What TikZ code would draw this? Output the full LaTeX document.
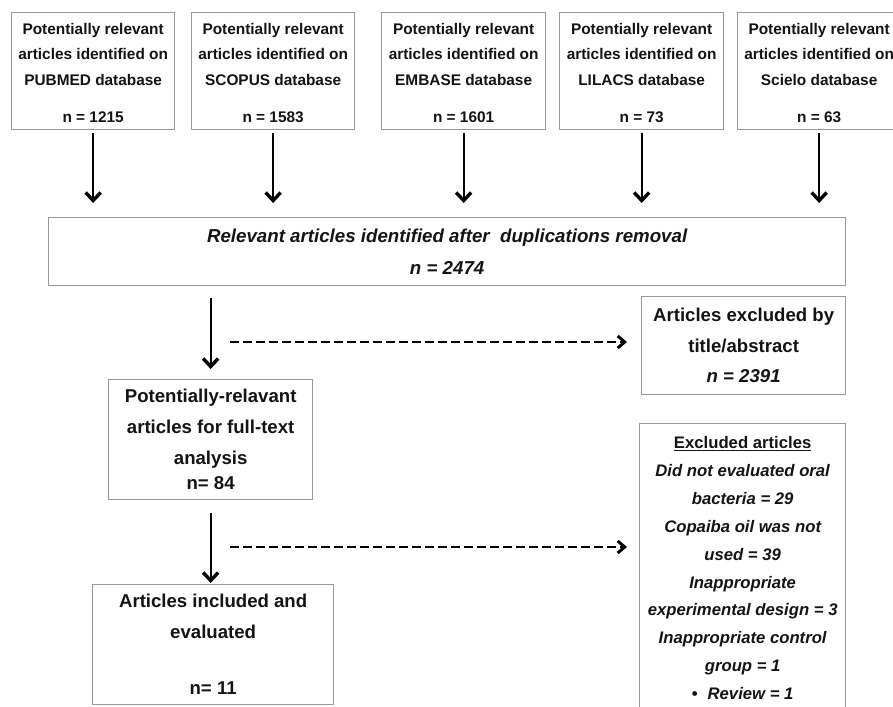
\documentclass[tikz,border=0pt]{standalone}
\usepackage{fontspec}
\setmainfont{Liberation Sans}
\usetikzlibrary{arrows.meta}
\definecolor{boxline}{gray}{0.6}
\definecolor{ink}{gray}{0.08}
\begin{document}
\begin{tikzpicture}[x=1pt,y=-1pt,
  box/.style={draw=boxline, line width=1.3pt, fill=white, align=center, inner sep=0pt, anchor=north west, text=ink},
  srcbox/.style={box, minimum width=163pt, minimum height=117pt, text depth=0pt, font=\fontsize{15.4}{25.5}\selectfont\bfseries},
  mainbox/.style={box, font=\fontsize{18.6}{31}\selectfont\bfseries},
  flow/.style={-{Straight Barb[length=8pt,width=15pt,line width=3.4pt]}, line width=2.3pt, black},
  skip/.style={-{Straight Barb[length=7pt,width=12pt,line width=3pt]}, line width=2.3pt, dash pattern=on 9pt off 4pt, black}]
\useasboundingbox (0,0) rectangle (893,706);
\fill[white] (0,0) rectangle (893,706);
\clip (0,0) rectangle (893,706);

\node[srcbox] (s1) at (11,12) {\rule{0pt}{14pt}Potentially relevant\\articles identified on\\PUBMED database\\[11.5pt]n = 1215};
\node[srcbox] (s2) at (191,12) {\rule{0pt}{14pt}Potentially relevant\\articles identified on\\SCOPUS database\\[11.5pt]n = 1583};
\node[srcbox, minimum width=164pt] (s3) at (381,12) {\rule{0pt}{14pt}Potentially relevant\\articles identified on\\EMBASE database\\[11.5pt]n = 1601};
\node[srcbox, minimum width=164pt] (s4) at (559,12) {\rule{0pt}{14pt}Potentially relevant\\articles identified on\\LILACS database\\[11.5pt]n = 73};
\node[srcbox] (s5) at (737,12) {\rule{0pt}{14pt}Potentially relevant\\articles identified on\\Scielo database\\[11.5pt]n = 63};

\node[mainbox, minimum width=797pt, minimum height=68pt, font=\fontsize{18.7}{32}\selectfont\bfseries\itshape] (rel) at (48,217) {Relevant articles identified after\ \ duplications removal\\n = 2474};

\node[mainbox, minimum width=204pt, minimum height=98pt, font=\fontsize{18.6}{30.5}\selectfont\bfseries] (ex1) at (641,296) {Articles excluded by\\title/abstract\\\textit{n = 2391}};

\node[mainbox, minimum width=204pt, minimum height=120pt] (pot) at (108,379) {Potentially-relavant\\articles for full-text\\analysis\\[-6pt]n= 84};

\node[mainbox, minimum width=241pt, minimum height=120pt] (inc) at (92,584) {Articles included and\\evaluated\\[25pt]n= 11};

\node[box, minimum width=206pt, minimum height=289pt, font=\fontsize{16.7}{27.9}\selectfont\bfseries\itshape] (ex2) at (639,423) {{\upshape\underline{Excluded articles}}\\Did not evaluated oral\\bacteria = 29\\Copaiba oil was not\\used = 39\\Inappropriate\\experimental design = 3\\Inappropriate control\\group = 1\\{\upshape •}\hspace{10pt}Review = 1};

\foreach \s in {s1,s2,s3,s4,s5}
  \draw[flow, shorten <=3pt, shorten >=14pt] (\s.south) -- (\s.south |- rel.north);

\draw[flow, shorten <=12pt, shorten >=10pt] (rel.south -| pot.north) -- (pot.north);
\draw[flow, shorten <=13pt, shorten >=1pt] (pot.south) -- (pot.south |- inc.north);

\coordinate (d1) at (230,342);
\coordinate (d2) at (230,547);
\draw[skip, shorten >=14pt] (d1) -- (d1 -| ex1.west);
\draw[skip, shorten >=12pt] (d2) -- (d2 -| ex2.west);
\end{tikzpicture}
\end{document}
